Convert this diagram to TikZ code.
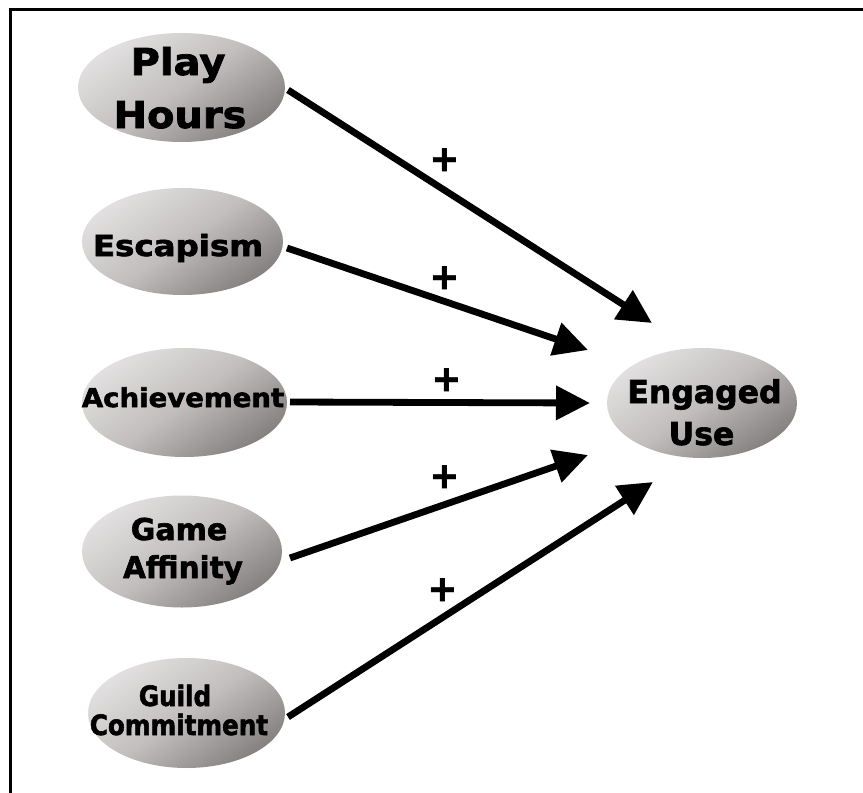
\documentclass[tikz,border=0pt]{standalone}
\usepackage{fontspec}
\usepackage{graphicx}
\usetikzlibrary{shapes.geometric,arrows.meta}
\newfontfamily\labfont{DejaVu Sans}[BoldFeatures={FakeBold=2}]
\newfontfamily\plusfont{Liberation Sans}
\definecolor{blobtop}{HTML}{E2E0E0}
\definecolor{blobmid}{HTML}{C2BEBE}
\definecolor{blobbot}{HTML}{858080}
\newcommand{\lab}[3]{{\labfont\bfseries\fontsize{#1}{#1}\selectfont\scalebox{#2}[1]{#3}}}
\tikzset{
  blob/.style={ellipse, inner sep=0pt, draw=none,
    top color=blobtop, bottom color=blobbot, middle color=blobmid, shading angle=35},
  word/.style={anchor=base, inner sep=0pt, text=black},
  sign/.style={inner sep=0pt, font=\plusfont\bfseries\fontsize{46}{46}\selectfont},
  link/.style={line width=6.8pt, -{Triangle[length=34pt,width=33pt]}},
  frame/.style={line width=2.6pt, line join=miter}
}
\begin{document}
\begin{tikzpicture}[x=1pt,y=-1pt]
\useasboundingbox (0,0) rectangle (863,793);
\fill[white] (0,0) rectangle (863,793);
\coordinate (fa) at (10.6,793);
\coordinate (fb) at (10.6,9.2);
\coordinate (fc) at (863,9.2);
\draw[frame] (fa) -- (fb) -- (fc);

% ellipses
\node[blob, minimum width=207pt, minimum height=109pt] (ph) at (181.5,87.5) {};
\node[blob, minimum width=201pt, minimum height=107pt] (es) at (182.5,241.5) {};
\node[blob, minimum width=205pt, minimum height=109pt] (ac) at (184.5,402.5) {};
\node[blob, minimum width=200pt, minimum height=112pt] (ga) at (182,551.5) {};
\node[blob, minimum width=197pt, minimum height=110pt] (gc) at (186.5,713) {};
\node[blob, minimum width=190pt, minimum height=110pt] (eu) at (702,403) {};

% labels
\node[word] (ph1) at (178,75) {\lab{37}{1.08}{Play}};
\node[word] (ph2) at (180,128) {\lab{37}{1.08}{Hours}};
\node[word] (es1) at (178,256) {\lab{29}{1.12}{Escapism}};
\node[word] (ac1) at (183,407) {\lab{26}{1.06}{Achievement}};
\node[word] (ga1) at (179,540) {\lab{30}{1.0}{Game}};
\node[word] (ga2) at (183,578) {\lab{30}{0.98}{Affinity}};
\node[word] (gc1) at (175,706) {\lab{28}{0.88}{Guild}};
\node[word] (gc2) at (179,735) {\lab{28}{0.88}{Commitment}};
\node[word] (eu1) at (704.5,403) {\lab{31.5}{1.0}{Engaged}};
\node[word] (eu2) at (701.5,445) {\lab{31.5}{1.0}{Use}};

% arrow ends
\coordinate (t1) at (652,323);
\coordinate (t2) at (588,350);
\coordinate (t3) at (590,403);
\coordinate (t4) at (588,455);
\coordinate (t5) at (653,482);
\coordinate (s1) at (288,90);
\coordinate (s2) at (287,248);
\coordinate (s3) at (290,402);
\coordinate (s4) at (290,558);
\coordinate (s5) at (288,717);

\draw[link] (s1) -- (t1);
\draw[link] (s2) -- (t2);
\draw[link] (s3) -- (t3);
\draw[link] (s4) -- (t4);
\draw[link] (s5) -- (t5);

% signs
\node[sign] (p1) at (445,162) {+};
\node[sign] (p2) at (445,280) {+};
\node[sign] (p3) at (447,382) {+};
\node[sign] (p4) at (445,479) {+};
\node[sign] (p5) at (443,592) {+};
\end{tikzpicture}
\end{document}
